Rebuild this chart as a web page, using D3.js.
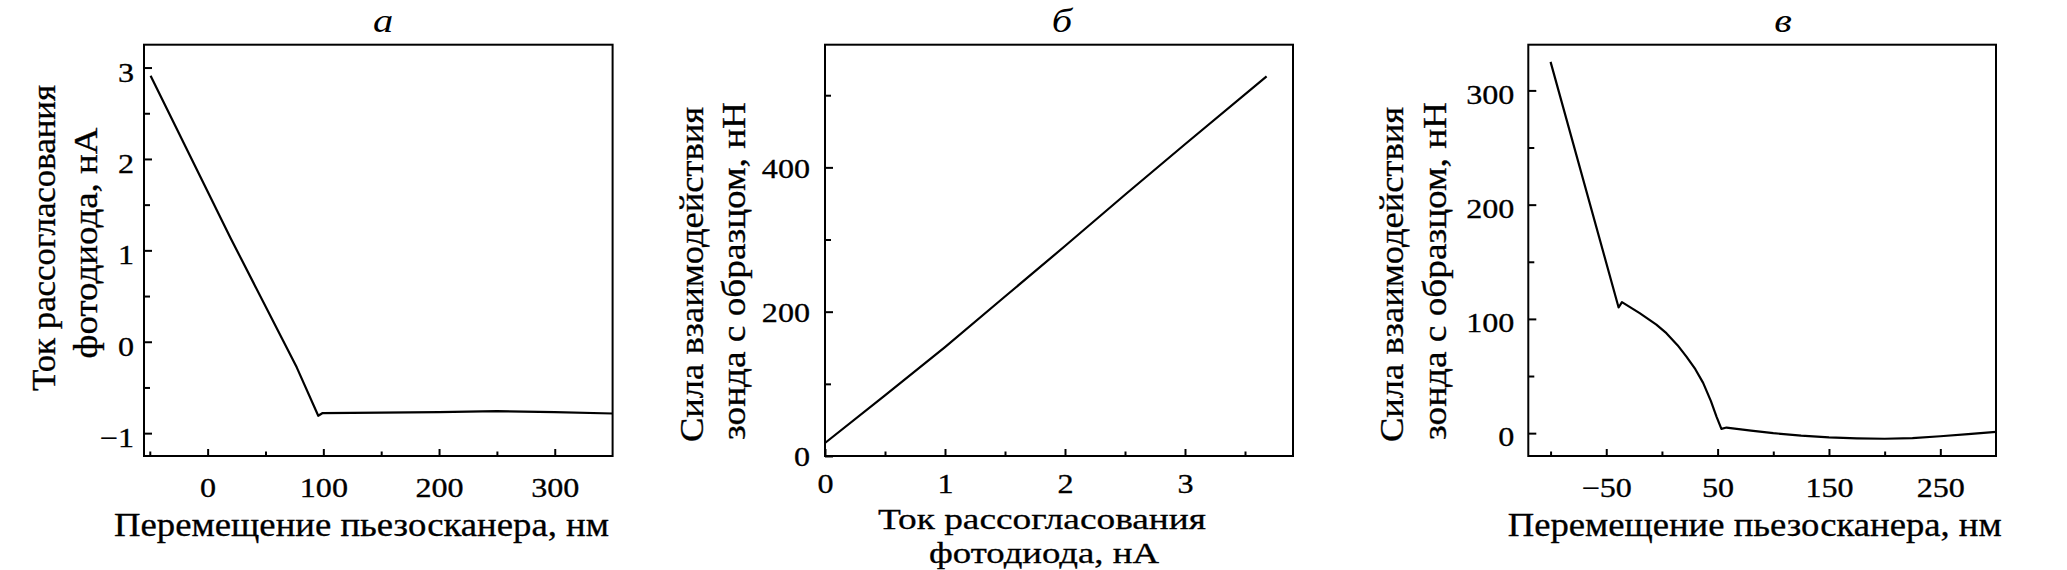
<!DOCTYPE html>
<html>
<head>
<meta charset="utf-8">
<script src="https://cdn.jsdelivr.net/npm/d3@7"></script>
<style>
  body { margin: 0; background: #fff; }
  text { font-family: "Liberation Serif", "Times New Roman", serif; fill: #000; stroke: #000; stroke-width: 0.3px; }
  text.letter { stroke: none; }
</style>
</head>
<body>
<script>
var W = 2067, H = 570;

// panel а: photodiode mismatch current vs scanner displacement
var aX = [-49.3, 20, 77, 95.6, 99.4, 150, 200, 250, 300, 350];
var aY = [2.91, 1.13, -0.28, -0.81, -0.78, -0.775, -0.77, -0.76, -0.77, -0.785];
var aXTicks = [0, 100, 200, 300];
var aXLabels = ["0", "100", "200", "300"];
var aXMinor = [-50, 50, 150, 250];
var aYTicks = [-1, 0, 1, 2, 3];
var aYLabels = ["\u22121", "0", "1", "2", "3"];
var aYMinor = [-0.5, 0.5, 1.5, 2.5];

// panel б: force vs mismatch current
var bX = [0, 0.5, 1, 1.5, 2, 2.5, 3, 3.68];
var bY = [18, 84, 151, 221, 291, 362, 432, 526];
var bXTicks = [0, 1, 2, 3];
var bXLabels = ["0", "1", "2", "3"];
var bXMinor = [0.5, 1.5, 2.5, 3.5];
var bYTicks = [0, 200, 400];
var bYLabels = ["0", "200", "400"];
var bYMinor = [100, 300, 500];

// panel в: force vs scanner displacement
var cX = [-100, -38.9, -35.9, -20, -5, 4, 14, 22, 30, 37, 44, 49, 53.4, 58, 80, 100, 125, 150, 175, 200, 225, 250, 275, 300];
var cY = [325, 110, 114.7, 105, 95, 87.5, 77, 67, 56, 44, 28, 14.5, 3.8, 4.9, 2.2, 0, -2.2, -3.7, -4.5, -4.9, -4.3, -2.7, -0.9, 1.1];
var cXTicks = [-50, 50, 150, 250];
var cXLabels = ["\u221250", "50", "150", "250"];
var cXMinor = [-100, 0, 100, 200];
var cYTicks = [0, 100, 200, 300];
var cYLabels = ["0", "100", "200", "300"];
var cYMinor = [50, 150, 250];

var svg = d3.select("body").append("svg")
  .attr("width", W).attr("height", H);

var SX = 1.19; // horizontal stretch of the original lettering

function panel(o) {
  var x = d3.scaleLinear().domain(o.xDom).range([o.left, o.right]);
  var y = d3.scaleLinear().domain(o.yDom).range([o.bottom, o.top]);
  var g = svg.append("g");

  // minor ticks
  g.append("g")
    .attr("transform", "translate(0," + o.bottom + ")")
    .call(d3.axisBottom(x).tickValues(o.xMinor).tickSize(-4.5).tickFormat(""));
  g.append("g")
    .attr("transform", "translate(" + o.left + ",0)")
    .call(d3.axisLeft(y).tickValues(o.yMinor).tickSize(-6).tickFormat(""));

  // major ticks
  var xa = g.append("g")
    .attr("transform", "translate(0," + o.bottom + ")")
    .call(d3.axisBottom(x).tickValues(o.xTicks).tickSize(-7).tickPadding(o.xPad)
      .tickFormat(function (d, i) { return o.xLabels[i]; }));
  var ya = g.append("g")
    .attr("transform", "translate(" + o.left + ",0)")
    .call(d3.axisLeft(y).tickValues(o.yTicks).tickSize(-8).tickPadding(0)
      .tickFormat(function (d, i) { return o.yLabels[i]; }));

  g.selectAll(".domain").remove();
  g.selectAll(".tick line").attr("stroke", "#000").attr("stroke-width", 2);

  xa.selectAll("text")
    .attr("font-size", 27)
    .attr("font-family", null)
    .attr("transform", "scale(" + SX + ",1)");
  ya.selectAll("text")
    .attr("font-size", 27)
    .attr("font-family", null)
    .attr("x", -o.yGap / SX)
    .attr("y", o.yOff)
    .attr("transform", "scale(" + SX + ",1)");

  // frame
  g.append("rect")
    .attr("x", o.left).attr("y", o.top)
    .attr("width", o.right - o.left).attr("height", o.bottom - o.top)
    .attr("fill", "none").attr("stroke", "#000").attr("stroke-width", 2);

  var line = d3.line()
    .x(function (d) { return x(d[0]); })
    .y(function (d) { return y(d[1]); });

  g.append("path")
    .datum(d3.zip(o.xs, o.ys))
    .attr("d", line)
    .attr("fill", "none")
    .attr("stroke", "#000")
    .attr("stroke-width", 2.2)
    .attr("stroke-linejoin", "round");

  // panel letter
  g.append("text")
    .attr("class", "letter")
    .attr("transform", "translate(" + o.letterX + ",32) scale(" + SX + ",1)")
    .attr("text-anchor", "middle")
    .attr("font-style", "italic")
    .attr("font-size", 34)
    .text(o.letter);

  // x title lines
  o.xTitle.forEach(function (t) {
    g.append("text")
      .attr("x", t.cx).attr("y", t.base)
      .attr("text-anchor", "middle")
      .attr("font-size", t.fs || 33)
      .attr("textLength", t.len)
      .attr("lengthAdjust", "spacingAndGlyphs")
      .text(t.s);
  });

  // y title lines, rotated
  o.yTitle.forEach(function (t) {
    g.append("text")
      .attr("transform", "translate(" + t.base + "," + t.cy + ") scale(1.04,1) rotate(-90)")
      .attr("text-anchor", "middle")
      .attr("font-size", 32)
      .attr("textLength", t.len)
      .attr("lengthAdjust", "spacingAndGlyphs")
      .text(t.s);
  });
}

panel({
  left: 144, right: 612.6, top: 44.7, bottom: 456,
  xDom: [-55, 350], yDom: [-1.25, 3.25],
  xTicks: aXTicks, xLabels: aXLabels, xMinor: aXMinor,
  yTicks: aYTicks, yLabels: aYLabels, yMinor: aYMinor,
  xPad: 22, yGap: 10, yOff: 5,
  xs: aX, ys: aY,
  letter: "а", letterX: 383,
  xTitle: [{ s: "Перемещение пьезосканера, нм", cx: 361.5, base: 536, len: 495 }],
  yTitle: [
    { s: "Ток рассогласования", base: 55, cy: 238, len: 306 },
    { s: "фотодиода, нА", base: 97, cy: 243, len: 231 }
  ]
});

panel({
  left: 825, right: 1293, top: 44.7, bottom: 456,
  xDom: [0, 3.9], yDom: [0, 570],
  xTicks: bXTicks, xLabels: bXLabels, xMinor: bXMinor,
  yTicks: bYTicks, yLabels: bYLabels, yMinor: bYMinor,
  xPad: 18, yGap: 15, yOff: 1,
  xs: bX, ys: bY,
  letter: "б", letterX: 1062,
  xTitle: [
    { s: "Ток рассогласования", cx: 1042, base: 529, len: 328, fs: 30 },
    { s: "фотодиода, нА", cx: 1044, base: 563, len: 230, fs: 30 }
  ],
  yTitle: [
    { s: "Сила взаимодействия", base: 703, cy: 274.5, len: 335 },
    { s: "зонда с образцом, нН", base: 745, cy: 271, len: 338 }
  ]
});

panel({
  left: 1528.3, right: 1996, top: 44.7, bottom: 456,
  xDom: [-120, 300], yDom: [-20, 340],
  xTicks: cXTicks, xLabels: cXLabels, xMinor: cXMinor,
  yTicks: cYTicks, yLabels: cYLabels, yMinor: cYMinor,
  xPad: 22, yGap: 14, yOff: 4,
  xs: cX, ys: cY,
  letter: "в", letterX: 1783,
  xTitle: [{ s: "Перемещение пьезосканера, нм", cx: 1754.7, base: 536, len: 494 }],
  yTitle: [
    { s: "Сила взаимодействия", base: 1403, cy: 274.5, len: 335 },
    { s: "зонда с образцом, нН", base: 1446, cy: 271, len: 338 }
  ]
});
</script>
</body>
</html>
